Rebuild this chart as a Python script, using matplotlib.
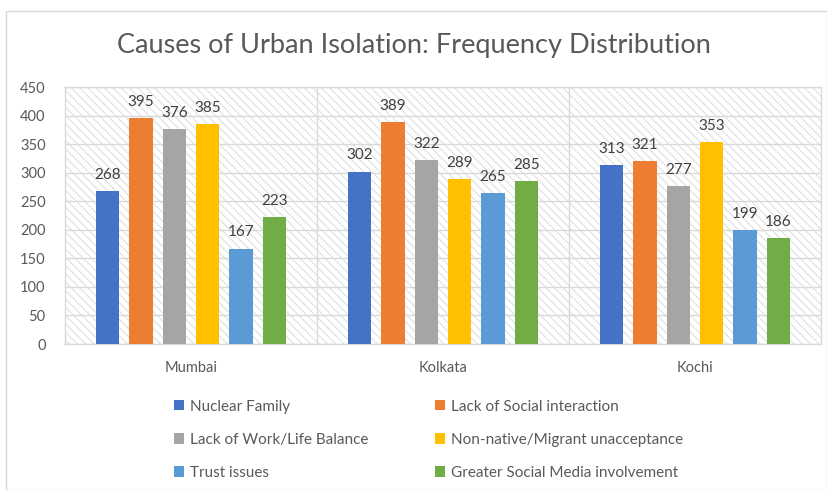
import matplotlib
matplotlib.use("Agg")
import matplotlib.pyplot as plt
from matplotlib.patches import Rectangle, Patch
import numpy as np

categories = ["Mumbai", "Kolkata", "Kochi"]
series_names = ["Nuclear Family", "Lack of Social interaction",
                "Lack of Work/Life Balance", "Non-native/Migrant unacceptance",
                "Trust issues", "Greater Social Media involvement"]
nuclear_family = [268, 302, 313]
lack_social = [395, 389, 321]
lack_balance = [376, 322, 277]
non_native = [385, 289, 353]
trust_issues = [167, 265, 199]
social_media = [223, 285, 186]
series_values = [nuclear_family, lack_social, lack_balance, non_native, trust_issues, social_media]
colors = ["#4472C4", "#ED7D31", "#A5A5A5", "#FFC000", "#5B9BD5", "#70AD47"]
yticks = list(range(0, 451, 50))

plt.rcParams['font.family'] = ['Lato', 'DejaVu Sans']
plt.rcParams['hatch.linewidth'] = 0.7
plt.rcParams['hatch.color'] = '#d9d9d9'

fig = plt.figure(figsize=(8.27, 4.90), dpi=100)
fig.patches.append(Rectangle((6/827, 0), 1 - 6/827, 1 - 11/490, transform=fig.transFigure,
                             facecolor='white', edgecolor='#d9d9d9', lw=1, zorder=-10))
ax = fig.add_axes([65/827, 1 - 344/490, (821 - 65)/827, (344 - 87)/490])

# hatched background
ax.add_patch(Rectangle((0, 0), 1, 1, transform=ax.transAxes, facecolor='white',
                       edgecolor='#dcdcdc', hatch='\\\\\\\\', lw=0, zorder=0))

x = np.arange(len(categories))
step = 0.132
width = 0.0925
for i, (vals, c, name) in enumerate(zip(series_values, colors, series_names)):
    pos = x + (i - 2.5) * step
    ax.bar(pos, vals, width=width, color=c, label=name, zorder=3)
    for p, v in zip(pos, vals):
        ax.text(p, v + 16, str(v), ha='center', va='bottom', fontsize=11, color='#404040', zorder=4)

ax.set_xlim(-0.5, 2.5)
ax.set_ylim(0, 450)
ax.set_yticks(yticks)
ax.set_yticklabels([str(t) for t in yticks], fontsize=10.5, color='#595959')
ax.set_xticks(x)
ax.set_xticklabels(categories, fontsize=10.5, color='#595959')
ax.tick_params(axis='both', length=0)
ax.tick_params(axis='y', pad=14)
ax.tick_params(axis='x', pad=12)
for t in yticks:
    ax.axhline(t, color='#d9d9d9', lw=1, zorder=1)
for b in [0.5, 1.5]:
    ax.axvline(b, color='#d9d9d9', lw=1, zorder=1)
for s in ax.spines.values():
    s.set_color('#d9d9d9')
    s.set_linewidth(1)
    s.set_zorder(1)

fig.text(0.5, 1 - 45/490, "Causes of Urban Isolation: Frequency Distribution",
         ha='center', va='center', fontsize=19.5, color='#595959')

order = [0, 2, 4, 1, 3, 5]
handles = [Patch(facecolor=colors[k], edgecolor='none') for k in order]
labels = [series_names[k] for k in order]
fig.legend(handles, labels, loc='upper left', bbox_to_anchor=(160/827, 1 - 386/490),
           ncol=2, frameon=False, fontsize=11, labelcolor='#595959',
           handlelength=0.65, handleheight=0.65, handletextpad=0.4,
           columnspacing=4.4, labelspacing=1.25)

fig.savefig("out.png", dpi=100)
